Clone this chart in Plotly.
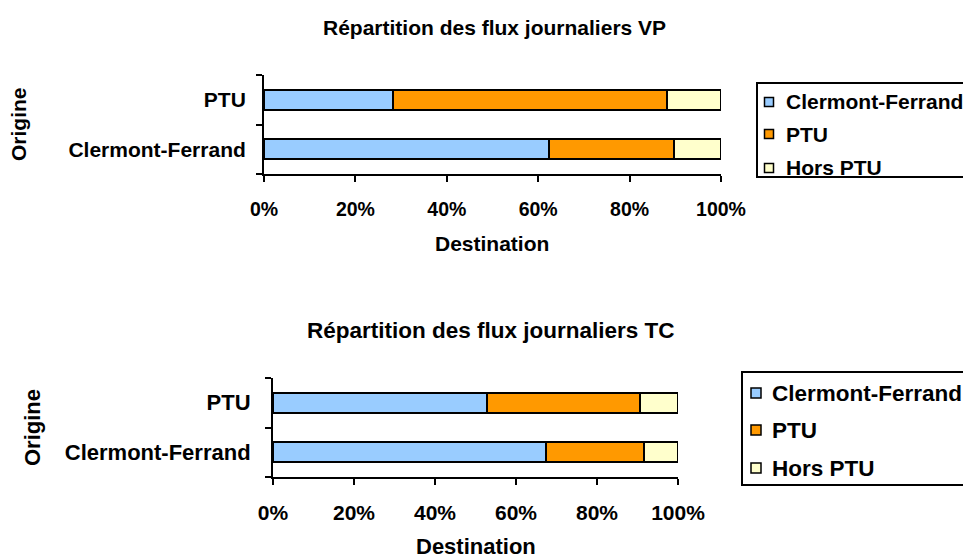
import plotly.graph_objects as go

origins = ["Clermont-Ferrand", "PTU"]
series = ["Clermont-Ferrand", "PTU", "Hors PTU"]
colors = ["#99CCFF", "#FF9900", "#FFFFCC"]

# VP (top chart): share of daily flows by destination, for origins [Clermont-Ferrand, PTU]
vp = {
    "Clermont-Ferrand": [0.623, 0.283],
    "PTU": [0.275, 0.599],
    "Hors PTU": [0.102, 0.118],
}
# TC (bottom chart)
tc = {
    "Clermont-Ferrand": [0.675, 0.528],
    "PTU": [0.242, 0.379],
    "Hors PTU": [0.083, 0.093],
}

x_ticks = [0, 0.2, 0.4, 0.6, 0.8, 1.0]
x_labels = ["0%", "20%", "40%", "60%", "80%", "100%"]

W, H = 963, 559
FONT = "Liberation Sans, Arial, sans-serif"


def px_x(p):
    return p / W


def px_y(p):
    return 1 - p / H


fig = go.Figure()

for i, s in enumerate(series):
    fig.add_trace(go.Bar(
        y=origins, x=vp[s], name=s, orientation="h", showlegend=False,
        marker=dict(color=colors[i], line=dict(color="black", width=2)),
        xaxis="x", yaxis="y",
    ))
for i, s in enumerate(series):
    fig.add_trace(go.Bar(
        y=origins, x=tc[s], name=s, orientation="h", showlegend=False,
        marker=dict(color=colors[i], line=dict(color="black", width=2)),
        xaxis="x2", yaxis="y2",
    ))

axis_common = dict(showline=True, linecolor="black", linewidth=2, ticks="outside",
                   tickcolor="black", tickwidth=2, ticklen=6, showgrid=False,
                   zeroline=False, fixedrange=True)

shapes = []
annotations = []


def add_legend(box, marker_x, marker_size, text_x, item_ys, font_size):
    x0, y0, x1, y1 = box
    shapes.append(dict(type="rect", xref="paper", yref="paper",
                       x0=px_x(x0), x1=px_x(x1), y0=px_y(y1), y1=px_y(y0),
                       line=dict(color="black", width=2), fillcolor="white", layer="above"))
    for name, col, yc in zip(series, colors, item_ys):
        h = marker_size / 2
        shapes.append(dict(type="rect", xref="paper", yref="paper",
                           x0=px_x(marker_x - h), x1=px_x(marker_x + h),
                           y0=px_y(yc + h), y1=px_y(yc - h),
                           line=dict(color="black", width=1.5), fillcolor=col, layer="above"))
        annotations.append(dict(text=name, x=px_x(text_x), y=px_y(yc), xref="paper", yref="paper",
                                showarrow=False, xanchor="left", yanchor="middle",
                                font=dict(size=font_size, weight="bold")))


add_legend((757, 83, 975, 177), 769, 9, 784, [102, 134, 168], 21)
add_legend((742, 372, 975, 485), 756, 10, 770, [393, 430, 468], 22.5)

annotations += [
    dict(text="Répartition des flux journaliers VP", x=px_x(495), y=px_y(28),
         xref="paper", yref="paper", showarrow=False, xanchor="center", yanchor="middle",
         font=dict(size=21, weight="bold")),
    dict(text="Destination", x=px_x(492), y=px_y(243),
         xref="paper", yref="paper", showarrow=False, xanchor="center", yanchor="middle",
         font=dict(size=21, weight="bold")),
    dict(text="Origine", x=px_x(18), y=px_y(124), textangle=-90,
         xref="paper", yref="paper", showarrow=False, xanchor="center", yanchor="middle",
         font=dict(size=21, weight="bold")),
    dict(text="Répartition des flux journaliers TC", x=px_x(491), y=px_y(330),
         xref="paper", yref="paper", showarrow=False, xanchor="center", yanchor="middle",
         font=dict(size=22.5, weight="bold")),
    dict(text="Destination", x=px_x(476), y=px_y(546),
         xref="paper", yref="paper", showarrow=False, xanchor="center", yanchor="middle",
         font=dict(size=22, weight="bold")),
    dict(text="Origine", x=px_x(32), y=px_y(428), textangle=-90,
         xref="paper", yref="paper", showarrow=False, xanchor="center", yanchor="middle",
         font=dict(size=22, weight="bold")),
]

fig.update_layout(
    width=W, height=H,
    margin=dict(l=0, r=0, t=0, b=0, autoexpand=False),
    paper_bgcolor="white", plot_bgcolor="white",
    barmode="stack", bargap=0.6, showlegend=False,
    font=dict(family=FONT, color="black", size=19),
    xaxis=dict(domain=[px_x(264), px_x(721)], anchor="y", range=[0, 1],
               tickvals=x_ticks, ticktext=x_labels,
               tickfont=dict(size=19.5, weight="bold"), ticklabelstandoff=11,
               **axis_common),
    yaxis=dict(domain=[px_y(174), px_y(75)], anchor="x", type="category",
               categoryorder="array", categoryarray=origins, range=[-0.5, 1.5],
               tickson="boundaries", tickfont=dict(size=21, weight="bold"),
               ticklabelstandoff=12, **axis_common),
    xaxis2=dict(domain=[px_x(273), px_x(678)], anchor="y2", range=[0, 1],
                tickvals=x_ticks, ticktext=x_labels,
                tickfont=dict(size=21, weight="bold"), ticklabelstandoff=10,
                **axis_common),
    yaxis2=dict(domain=[px_y(477), px_y(378)], anchor="x2", type="category",
                categoryorder="array", categoryarray=origins, range=[-0.5, 1.5],
                tickson="boundaries", tickfont=dict(size=22, weight="bold"),
                ticklabelstandoff=16, **axis_common),
    shapes=shapes,
    annotations=annotations,
)

fig.write_html("out.html", config={"displayModeBar": False},
               post_script="document.body.style.margin='0';")
